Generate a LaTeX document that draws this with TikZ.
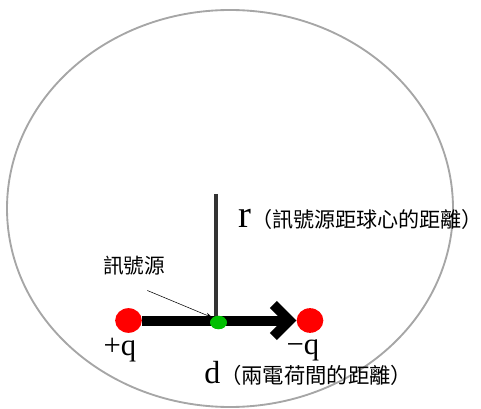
\documentclass[tikz,border=0pt]{standalone}
\usepackage{fontspec}
\setmainfont{Liberation Serif}
\newfontfamily\cjk{Noto Sans CJK TC}
\usetikzlibrary{arrows.meta,positioning,shapes.geometric}
\tikzset{
    charge/.style={ellipse, fill=red, inner sep=0pt, minimum width=20pt, minimum height=18.5pt},
    source/.style={ellipse, fill=green!75!black, inner sep=0pt, minimum width=12.5pt, minimum height=10pt},
    dipole/.style={line width=7.5pt, -{Straight Barb[length=12pt, width=24pt]}},
    axis/.style={line width=2.8pt, black!80},
    pointer/.style={thin, -{Stealth[length=5pt, width=3.5pt]}},
    sphere/.style={black!35, line width=1.4pt},
    qtext/.style={inner sep=0pt, font=\fontsize{23pt}{25pt}\selectfont},
    cjktext/.style={inner sep=0pt, font=\cjk\fontsize{15.5pt}{17pt}\selectfont}
}
\begin{document}
\begin{tikzpicture}[x=0.75pt, y=-0.75pt]
    \useasboundingbox (0,0) rectangle (481,409);
    % sphere
    \draw [sphere] (230,208.5) ellipse [x radius=223, y radius=198.5];
    % charges
    \node [charge] (pos) at (128.5,320.5) {};
    \node [charge] (neg) at (310,320.5) {};
    \draw [dipole] (pos.east) -- (neg.west);
    \coordinate (rtop) at (216,194);
    \node [source] (src) at (218.5,322.5) {};
    \draw [axis] (rtop) -- (rtop |- src.north);
    \node [source] at (src) {};
    % lecter
    \node [cjktext] (srclabel) at (134,266) {訊號源};
    \draw [pointer] ([xshift=10pt,yshift=-11pt]srclabel.south) -- (src.north west);
    \node [qtext] (plus) at (120,350) {+q};
    \node [qtext] (minus) at (303,350) {−q};
    \node [anchor=base west, inner sep=0pt] (rlabel) at (238,228)
        {\fontsize{29pt}{31pt}\selectfont r\cjk\fontsize{15.8pt}{18pt}\selectfont （訊號源距球心的距離）};
    \node [anchor=base west, inner sep=0pt] (dlabel) at (204,383)
        {\fontsize{24pt}{26pt}\selectfont d\cjk\fontsize{16pt}{18pt}\selectfont （兩電荷間的距離）};
\end{tikzpicture}
\end{document}
